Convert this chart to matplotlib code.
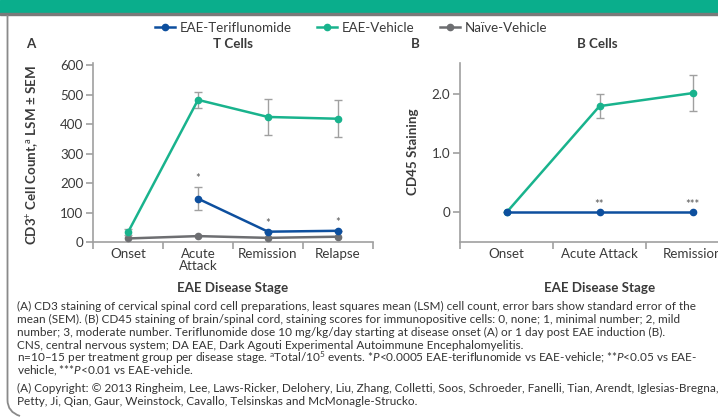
import matplotlib
matplotlib.use("Agg")
import matplotlib.pyplot as plt
from matplotlib.patches import Rectangle
from matplotlib.path import Path
from matplotlib.patches import PathPatch

plt.rcParams['font.family'] = ['Lato', 'DejaVu Sans']
plt.rcParams['mathtext.fontset'] = 'custom'
plt.rcParams['mathtext.rm'] = 'Lato'
plt.rcParams['mathtext.it'] = 'Lato:italic'
plt.rcParams['mathtext.bf'] = 'Lato:bold'

# Panel A - T cells
stages_a = ["Onset", "Acute\nAttack", "Remission", "Relapse"]
teri_a = [None, 147, 35, 38]
teri_a_err = [0, 40, 0, 0]
veh_a = [33, 482, 424, 418]
veh_a_err = [10, 28, 62, 62]
naive_a = [12, 20, 14, 18]
stars_a = ["", "*", "*", "*"]

# Panel B - B cells
stages_b = ["Onset", "Acute Attack", "Remission"]
teri_b = [0, 0, 0]
veh_b = [0, 1.8, 2.02]
veh_b_err = [0, 0.2, 0.3]
stars_b = ["", "**", "***"]

TERI = "#0d4f9e"
VEH = "#19b38d"
NAIVE = "#6d6e71"
ERR = "#a0a0a0"
SPINE = "#a0a0a0"
TXT = "#3a3a3a"
FS = 9.6

W, H = 718, 419
fig = plt.figure(figsize=(W / 100, H / 100), dpi=100)


def fx(px):
    return px / W


def fy(py):
    return 1 - py / H


# header bar and frame
fig.patches.append(Rectangle((0, fy(13)), 1, 13 / H, transform=fig.transFigure,
                             color="#0aae8c", zorder=0))
fig.patches.append(Rectangle((0, fy(15)), 1, 2.2 / H, transform=fig.transFigure,
                             color="#7a7a7a", zorder=1))
verts = [(fx(7.5), fy(15)), (fx(7.5), fy(400)), (fx(7.5), fy(412)), (fx(20), fy(416))]
codes = [Path.MOVETO, Path.LINETO, Path.CURVE3, Path.CURVE3]
fig.patches.append(PathPatch(Path(verts, codes), transform=fig.transFigure,
                             fill=False, edgecolor="#8a8a8a", lw=1.3))


def style_axes(ax, n):
    for s in ["top", "right"]:
        ax.spines[s].set_visible(False)
    for s in ["left", "bottom"]:
        ax.spines[s].set_color(SPINE)
        ax.spines[s].set_linewidth(1.2)
    ax.set_xlim(-0.5, n - 0.5)
    ax.set_xticks(range(n))
    ax.set_xticks([i - 0.5 for i in range(n + 1)], minor=True)
    ax.tick_params(axis="x", which="major", length=0, pad=4, labelsize=FS, labelcolor=TXT)
    ax.tick_params(axis="x", which="minor", length=5, width=1.2, color=SPINE)
    ax.tick_params(axis="y", length=5, width=1.2, color=SPINE, labelsize=FS,
                   labelcolor=TXT, pad=2)


# Panel A
ax1 = fig.add_axes([fx(93), fy(242), fx(280), (242 - 63) / H])
xa = list(range(len(stages_a)))
ax1.plot(xa, naive_a, color=NAIVE, lw=1.8, marker="o", ms=4.5, zorder=3)
ax1.errorbar(xa, veh_a, yerr=veh_a_err, color=VEH, ecolor=ERR, elinewidth=1,
             capsize=3, capthick=1, lw=1.8, marker="o", ms=4.5, zorder=3)
xt = [x for x, v in zip(xa, teri_a) if v is not None]
yt = [v for v in teri_a if v is not None]
et = [e for e, v in zip(teri_a_err, teri_a) if v is not None]
ax1.errorbar(xt, yt, yerr=et, color=TERI, ecolor=ERR, elinewidth=1, capsize=3,
             capthick=1, lw=1.8, marker="o", ms=4.5, zorder=4)
for x, v, e, s in zip(xa, teri_a, teri_a_err, stars_a):
    if s:
        ax1.text(x, v + e + 10, s, ha="center", va="bottom", fontsize=8, color="#555555")
ax1.set_ylim(0, 607)
ax1.set_yticks([0, 100, 200, 300, 400, 500, 600])
style_axes(ax1, len(stages_a))
ax1.set_xticklabels(stages_a, linespacing=1.0)

# Panel B
ax2 = fig.add_axes([fx(460), fy(242), fx(279), (242 - 63) / H])
xb = list(range(len(stages_b)))
ax2.errorbar(xb, veh_b, yerr=veh_b_err, color=VEH, ecolor=ERR, elinewidth=1,
             capsize=3, capthick=1, lw=1.8, marker="o", ms=4.5, zorder=3)
ax2.plot(xb, teri_b, color=TERI, lw=1.8, marker="o", ms=4.5, zorder=4)
for x, v, s in zip(xb, teri_b, stars_b):
    if s:
        ax2.text(x, v + 0.04, s, ha="center", va="bottom", fontsize=8, color="#555555")
ax2.set_ylim(-0.5, 2.53)
ax2.set_yticks([0, 1.0, 2.0])
ax2.set_yticklabels(["0", "1.0", "2.0"])
style_axes(ax2, len(stages_b))
ax2.set_xticklabels(stages_b)

# axis labels
fig.text(fx(233), fy(288), "EAE Disease Stage", ha="center", va="center",
         fontsize=FS, fontweight="bold", color=TXT)
fig.text(fx(600), fy(288), "EAE Disease Stage", ha="center", va="center",
         fontsize=FS, fontweight="bold", color=TXT)
fig.text(fx(33), fy(155), r"CD3$^{+}$ Cell Count,$^{\mathrm{a}}$ LSM ± SEM", rotation=90,
         ha="center", va="center", fontsize=FS, fontweight="bold", color=TXT)
fig.text(fx(413), fy(152), "CD45 Staining", rotation=90, ha="center", va="center",
         fontsize=FS, fontweight="bold", color=TXT)

# panel letters and titles
fig.text(fx(31), fy(44), "A", ha="center", va="center", fontsize=FS,
         fontweight="bold", color=TXT)
fig.text(fx(415), fy(44), "B", ha="center", va="center", fontsize=FS,
         fontweight="bold", color=TXT)
fig.text(fx(233), fy(44), "T Cells", ha="center", va="center", fontsize=FS,
         fontweight="bold", color=TXT)
fig.text(fx(597), fy(44), "B Cells", ha="center", va="center", fontsize=FS,
         fontweight="bold", color=TXT)

# legend
h1, = ax1.plot([], [], color=TERI, lw=1.8, marker="o", ms=4.5)
h2, = ax1.plot([], [], color=VEH, lw=1.8, marker="o", ms=4.5)
h3, = ax1.plot([], [], color=NAIVE, lw=1.8, marker="o", ms=4.5)
leg = fig.legend([h1, h2, h3], ["EAE-Teriflunomide", "EAE-Vehicle", "Naïve-Vehicle"],
                 loc="center left", bbox_to_anchor=(fx(155), fy(28)), ncol=3,
                 frameon=False, fontsize=FS, handlelength=1.5, handletextpad=0.35,
                 columnspacing=1.9, borderpad=0, borderaxespad=0)
for t in leg.get_texts():
    t.set_color(TXT)

# footnote
notes = [
    "(A) CD3 staining of cervical spinal cord cell preparations, least squares mean (LSM) cell count, error bars show standard error of the",
    "mean (SEM). (B) CD45 staining of brain/spinal cord, staining scores for immunopositive cells: 0, none; 1, minimal number; 2, mild",
    "number; 3, moderate number. Teriflunomide dose 10 mg/kg/day starting at disease onset (A) or 1 day post EAE induction (B).",
    "CNS, central nervous system; DA EAE, Dark Agouti Experimental Autoimmune Encephalomyelitis.",
    r"n=10–15 per treatment group per disease stage. $^{\mathrm{a}}$Total/10$^{5}$ events. *$P$<0.0005 EAE-teriflunomide vs EAE-vehicle; **$P$<0.05 vs EAE-",
    r"vehicle, ***$P$<0.01 vs EAE-vehicle.",
    "(A) Copyright: © 2013 Ringheim, Lee, Laws-Ricker, Delohery, Liu, Zhang, Colletti, Soos, Schroeder, Fanelli, Tian, Arendt, Iglesias-Bregna,",
    "Petty, Ji, Qian, Gaur, Weinstock, Cavallo, Telsinskas and McMonagle-Strucko.",
]
note_y = [306, 319, 332, 345, 358, 371, 388, 401]
for s, y in zip(notes, note_y):
    fig.text(fx(17), fy(y + 3.5), s, ha="left", va="baseline", fontsize=8.5,
             color="#333333")

fig.savefig("out.png", dpi=100)
